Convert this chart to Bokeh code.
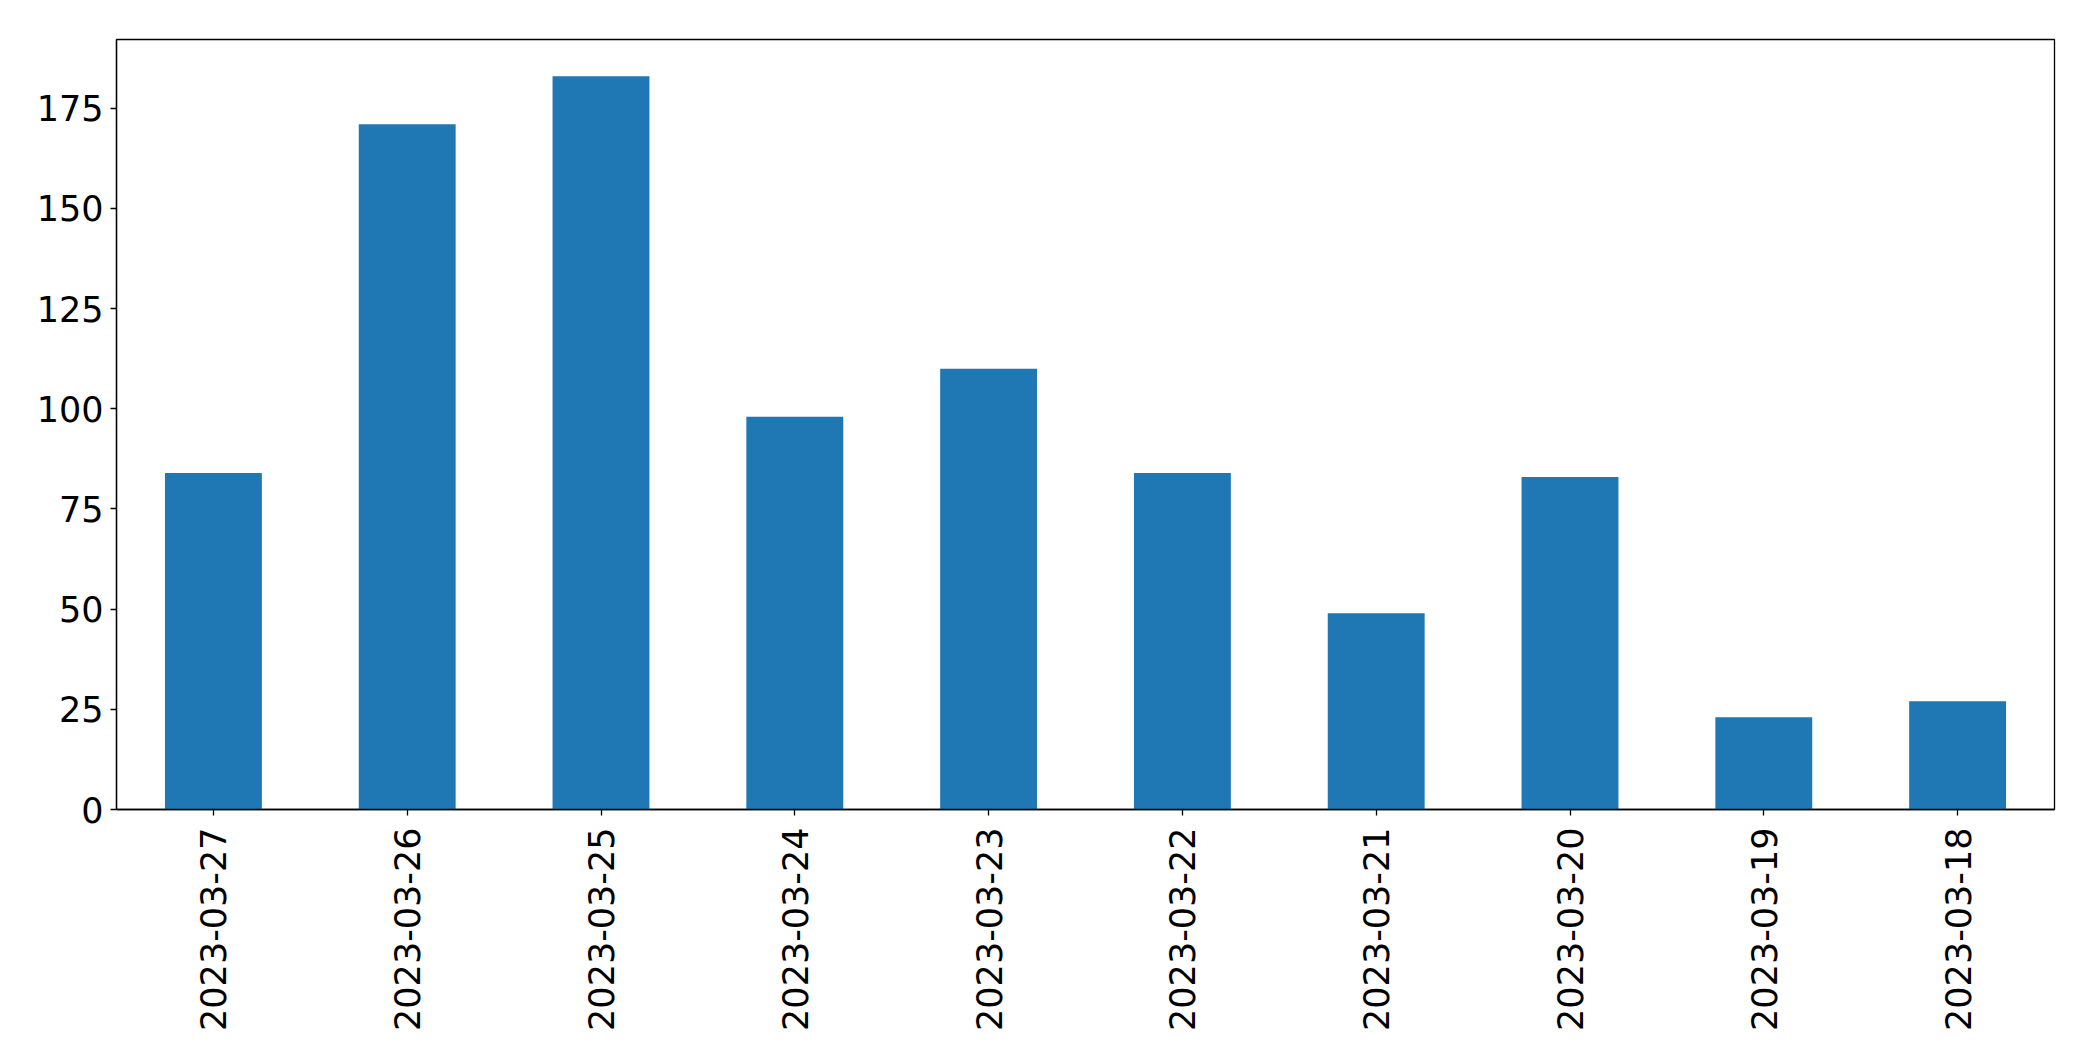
import math
from bokeh.plotting import figure
from bokeh.models import Range1d, FixedTicker, ColumnDataSource
from bokeh.embed import file_html
from bokeh.resources import INLINE

dates = ["2023-03-27", "2023-03-26", "2023-03-25", "2023-03-24", "2023-03-23",
         "2023-03-22", "2023-03-21", "2023-03-20", "2023-03-19", "2023-03-18"]
counts = [84, 171, 183, 98, 110, 84, 49, 83, 23, 27]
y_ticks = [0, 25, 50, 75, 100, 125, 150, 175]

source = ColumnDataSource(data=dict(dates=dates, counts=counts))

p = figure(x_range=dates, y_range=Range1d(0, max(counts) * 1.05),
           frame_width=1938, frame_height=770,
           min_border_left=116, min_border_top=39, min_border_right=20, min_border_bottom=230,
           output_backend="svg", toolbar_location=None)
p.x_range.range_padding = 0

p.vbar(x="dates", top="counts", width=0.5, source=source,
       fill_color="#1f77b4", line_color=None)

p.xgrid.visible = False
p.ygrid.visible = False
p.outline_line_color = "black"
p.outline_line_width = 1.3
p.outline_line_alpha = 1

p.yaxis.ticker = FixedTicker(ticks=y_ticks)
for ax in (p.xaxis[0], p.yaxis[0]):
    ax.major_label_text_font = "DejaVu Sans"
    ax.major_label_text_font_size = "35px"
    ax.major_label_text_color = "black"
    ax.axis_line_color = "black"
    ax.axis_line_width = 1.3
    ax.major_tick_line_color = "black"
    ax.major_tick_line_width = 1.3
    ax.major_tick_out = 6
    ax.major_tick_in = 0
    ax.minor_tick_out = 0
    ax.minor_tick_in = 0

p.yaxis.major_label_standoff = 7
p.xaxis.major_label_standoff = 12
p.xaxis.major_label_orientation = math.pi / 2

open("out.html", "w").write(file_html(p, INLINE))
